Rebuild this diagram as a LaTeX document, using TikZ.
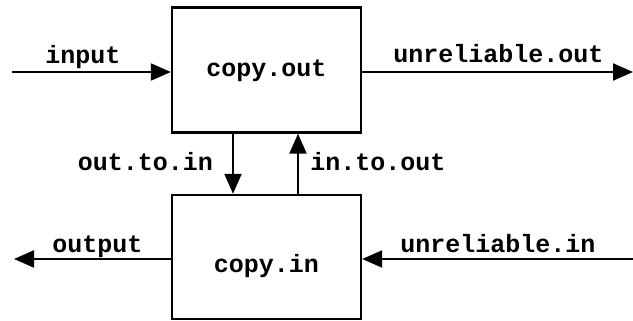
\documentclass[tikz,border=0pt]{standalone}
\usepackage{fontspec}
\setmonofont{Liberation Mono}
\usetikzlibrary{arrows.meta}
\begin{document}
\begin{tikzpicture}[x=1pt,y=-1pt,
  box/.style={draw, line width=2.4pt, minimum width=189pt, inner sep=0pt},
  arr/.style={line width=2.2pt, -{Triangle[length=20pt,width=17pt]}},
  lbl/.style={font=\ttfamily\bfseries\fontsize{25}{25}\selectfont, anchor=base, inner sep=0pt}]
\useasboundingbox (0,0) rectangle (633,321);
\node[box, minimum height=125pt] (cout) at (266.5,70) {};
\node[box, minimum height=124pt] (cin) at (266.5,257) {};
\node[lbl] (tcout) at (266.5,77) {copy.out};
\node[lbl] (tcin) at (266.5,272) {copy.in};
\coordinate (inS) at (12,72);
\coordinate (uoutE) at (633,72);
\coordinate (uinS) at (633,259);
\coordinate (outE) at (14,259);
\coordinate (xa) at (233,0);
\coordinate (xb) at (298,0);
\draw[arr] (inS) -- (cout.west |- inS);
\draw[arr] (cout.east |- uoutE) -- (uoutE);
\draw[arr] (uinS) -- (cin.east |- uinS);
\draw[arr] (cin.west |- outE) -- (outE);
\draw[arr] (cout.south -| xa) -- (cin.north -| xa);
\draw[arr] (cin.north -| xb) -- (cout.south -| xb);
\node[lbl] (linput) at (83,64) {input};
\node[lbl] (luout) at (498.5,63) {unreliable.out};
\node[lbl] (loti) at (145.5,171) {out.to.in};
\node[lbl] (lito) at (378,171) {in.to.out};
\node[lbl] (loutput) at (97.5,252) {output};
\node[lbl] (luin) at (498,252) {unreliable.in};
\end{tikzpicture}
\end{document}
